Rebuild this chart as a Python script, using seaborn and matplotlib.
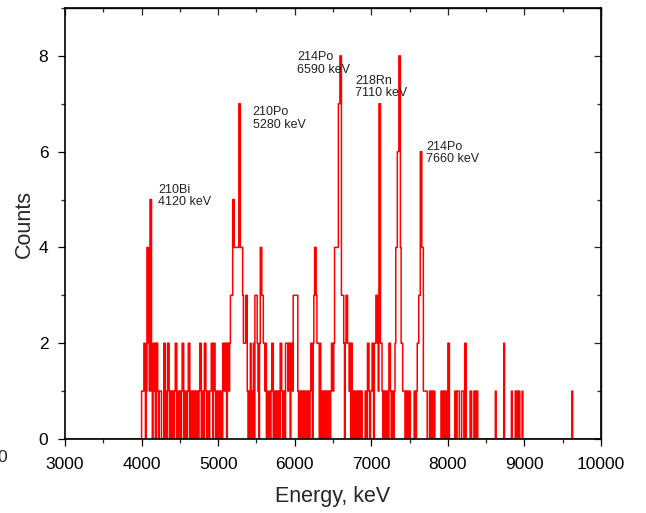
import numpy as np
import pandas as pd
import matplotlib
matplotlib.use("Agg")
import matplotlib.pyplot as plt
import seaborn as sns
from matplotlib.ticker import MultipleLocator

# ---- spectrum data: counts per 10 keV channel ----
bin_width_keV = 10
range_keV = (3000, 10000)
dense_start_keV = 4000

counts_4000 = [1, 1, 1, 2, 2, 0, 1, 4, 4, 2,
               1, 5, 5, 1, 0, 2, 1, 2, 0, 2,
               2, 1, 0, 1, 1, 1, 0, 0, 0, 2,
               2, 0, 1, 0, 2, 2, 1, 0, 1, 1,
               0, 1, 0, 1, 2, 2, 0, 1, 1, 0]
counts_4500 = [1, 0, 1, 2, 2, 0, 1, 1, 0, 0,
               1, 2, 2, 0, 1, 1, 0, 1, 1, 0,
               1, 1, 0, 1, 0, 1, 2, 2, 0, 1,
               1, 0, 2, 2, 1, 0, 1, 1, 0, 1,
               1, 2, 2, 0, 2, 2, 1, 0, 1, 1]
counts_5000 = [0, 1, 1, 0, 1, 0, 2, 2, 1, 2,
               2, 0, 2, 2, 1, 2, 3, 3, 3, 5,
               5, 4, 4, 4, 4, 4, 4, 7, 7, 4,
               4, 4, 3, 2, 2, 2, 3, 3, 1, 0,
               1, 0, 2, 1, 0, 1, 2, 0, 3, 3]
counts_5500 = [3, 2, 1, 0, 2, 4, 4, 3, 3, 2,
               2, 1, 2, 0, 1, 0, 0, 1, 0, 1,
               2, 2, 0, 1, 1, 0, 1, 0, 1, 1,
               0, 2, 2, 1, 0, 1, 1, 0, 2, 2,
               2, 1, 2, 2, 0, 2, 2, 1, 3, 3]
counts_6000 = [3, 3, 3, 3, 1, 0, 1, 1, 0, 1,
               1, 0, 1, 1, 0, 1, 0, 1, 1, 0,
               1, 2, 2, 0, 2, 3, 4, 4, 3, 2,
               2, 2, 0, 2, 1, 0, 1, 1, 0, 1,
               1, 0, 1, 1, 0, 1, 0, 1, 2, 2]
counts_6500 = [1, 2, 4, 4, 4, 4, 4, 7, 7, 8,
               8, 3, 3, 3, 2, 0, 2, 3, 3, 2,
               2, 1, 2, 0, 2, 1, 0, 1, 0, 1,
               1, 0, 1, 1, 0, 1, 0, 1, 0, 0,
               0, 0, 1, 1, 0, 2, 2, 1, 0, 1]
counts_7000 = [1, 2, 2, 0, 2, 2, 3, 3, 2, 1,
               7, 7, 2, 2, 1, 0, 1, 0, 1, 1,
               0, 1, 0, 2, 2, 1, 0, 1, 1, 0,
               1, 2, 4, 4, 6, 6, 8, 8, 4, 2,
               2, 1, 1, 1, 0, 1, 0, 1, 1, 0]
counts_7500 = [1, 0, 0, 0, 0, 0, 1, 1, 0, 1,
               2, 2, 3, 3, 6, 6, 4, 4, 1, 1,
               1, 1, 1, 0, 0, 0, 1, 0, 1, 1,
               0, 1, 1, 0, 0, 0, 0, 0, 0, 0,
               0, 1, 1, 0, 1, 1, 0, 1, 0, 0]
counts_8000 = [2, 2, 0, 0, 0, 0, 0, 0, 0, 1,
               1, 0, 1, 1, 1, 0, 0, 0, 1, 1,
               1, 0, 2, 2, 0, 0, 0, 0, 0, 1,
               1, 0, 0, 0, 1, 1, 0, 1, 1, 0]

# sparse high-energy tail (channel start, counts)
tail_keV = [8620, 8730, 8830, 8880, 8900, 8920, 8930, 8970, 9620]
tail_counts = [1, 2, 1, 1, 1, 1, 1, 1, 1]

# peak annotations
peak_labels = ["210Bi\n4120 keV", "210Po\n5280 keV", "214Po\n6590 keV",
               "218Rn\n7110 keV", "214Po\n7660 keV"]
label_keV = [4215, 5450, 6030, 6787, 7715]
label_counts = [5.07, 6.69, 7.84, 7.35, 5.97]

# ---- assemble channels ----
n_bins = (range_keV[1] - range_keV[0]) // bin_width_keV
centers = range_keV[0] + bin_width_keV * (np.arange(n_bins) + 0.5)
counts = np.zeros(n_bins)
dense = np.concatenate([counts_4000, counts_4500, counts_5000, counts_5500,
                        counts_6000, counts_6500, counts_7000, counts_7500,
                        counts_8000])
i0 = (dense_start_keV - range_keV[0]) // bin_width_keV
counts[i0:i0 + len(dense)] = dense
for e, c in zip(tail_keV, tail_counts):
    counts[(e - range_keV[0]) // bin_width_keV] = c
df = pd.DataFrame({"Energy": centers, "Counts": counts})

# ---- figure ----
sns.set_style("ticks")
plt.rcParams["font.family"] = ["Liberation Sans", "DejaVu Sans"]

fig = plt.figure(figsize=(6.46, 5.13), dpi=100)
ax = fig.add_axes([65 / 646, 1 - 439 / 513, (601 - 65) / 646, (439 - 8) / 513])

sns.histplot(data=df, x="Energy", weights="Counts",
             binwidth=bin_width_keV, binrange=range_keV,
             element="step", fill=False, color="#ff0000", linewidth=1.1,
             zorder=1, ax=ax)

ax.set_xlim(3000, 10000)
ax.set_ylim(0, 9)
ax.xaxis.set_major_locator(MultipleLocator(1000))
ax.xaxis.set_minor_locator(MultipleLocator(500))
ax.yaxis.set_major_locator(MultipleLocator(2))
ax.yaxis.set_minor_locator(MultipleLocator(1))
ax.tick_params(which="major", length=5, width=0.9, direction="out",
               labelsize=12.5, colors="black")
ax.tick_params(which="minor", length=2.8, width=0.9, direction="out")
ax.tick_params(axis="x", pad=8)
ax.tick_params(axis="y", pad=7)

for s in ax.spines.values():
    s.set_visible(True)
    s.set_linewidth(1.2)
    s.set_color("black")
    s.set_zorder(3)

# mirrored inward ticks on top and right
top = ax.secondary_xaxis("top")
top.xaxis.set_major_locator(MultipleLocator(1000))
top.xaxis.set_minor_locator(MultipleLocator(500))
top.tick_params(which="major", direction="in", length=5, width=0.9, labeltop=False)
top.tick_params(which="minor", direction="in", length=2.8, width=0.9)
top.spines["top"].set_linewidth(1.0)
right = ax.secondary_yaxis("right")
right.yaxis.set_major_locator(MultipleLocator(2))
right.yaxis.set_minor_locator(MultipleLocator(1))
right.tick_params(which="major", direction="in", length=5, width=0.9, labelright=False)
right.tick_params(which="minor", direction="in", length=2.8, width=0.9)
right.spines["right"].set_linewidth(1.0)

ax.set_xlabel("Energy, keV", fontsize=15.5, labelpad=10)
ax.set_ylabel("Counts", fontsize=15.5, labelpad=2.5)

for txt, ex, cy in zip(peak_labels, label_keV, label_counts):
    ax.text(ex, cy, txt, fontsize=9, color="#222222", ha="left",
            va="center", linespacing=1.05)

# stray tick label at the left edge
fig.text(7 / 646, 1 - 458 / 513, "0", fontsize=12.5, ha="right", va="center")

fig.savefig("out.png", dpi=100)
